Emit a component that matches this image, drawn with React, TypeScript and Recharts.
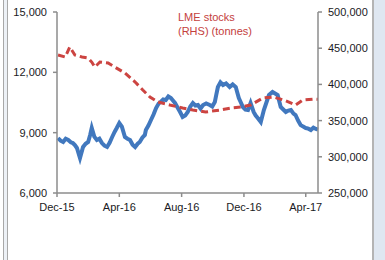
import React from "react";
import { LineChart, Line, XAxis, YAxis } from "recharts";

// x values are days since 1 Dec 2015
const tickDays = [0, 122, 244, 366, 487];
const tickLabels = ["Dec-15", "Apr-16", "Aug-16", "Dec-16", "Apr-17"];

// copper price (LHS)
const priceDays = [
  2, 7, 12, 17, 22, 27, 31, 35, 39, 45, 51, 56, 61, 65, 68, 73, 78, 83, 88, 93,
  98, 103, 108, 113, 117, 122, 127, 133, 138, 143, 148, 153, 158, 162, 167, 172,
  174, 179, 184, 189, 194, 199, 203, 208, 213, 218, 223, 227, 231, 236, 241, 246,
  251, 256, 261, 266, 271, 276, 281, 286, 292, 299, 304, 309, 312, 315, 320, 325,
  331, 338, 344, 350, 356, 360, 364, 369, 374, 379, 385, 389, 393, 399, 405, 410,
  415, 422, 427, 432, 438, 443, 448, 453, 458, 463, 467, 472, 477, 482, 487, 492,
  497, 502, 507, 511,
];
const priceValues = [
  8735, 8600, 8536, 8700, 8635, 8520, 8486, 8380, 8237, 7740, 8287, 8450, 8536, 8900,
  9232, 8800, 8635, 8700, 8486, 8350, 8287, 8500, 8784, 9050, 9232, 9480, 9300, 8784,
  8700, 8635, 8400, 8287, 8450, 8536, 8750, 8884, 9132, 9350, 9630, 9900, 10226, 10450,
  10524, 10650, 10624, 10800, 10723, 10600, 10475, 10250, 10027, 9779, 9850, 10027, 10300, 10475,
  10350, 10375, 10200, 10375, 10450, 10375, 10300, 10524, 10900, 11270, 11500, 11370, 11450, 11270,
  11400, 11270, 10723, 10500, 10276, 10150, 10127, 10475, 10027, 9850, 9729, 9530, 10127, 10500,
  10873, 11022, 10950, 10873, 10276, 10150, 10027, 10100, 10127, 9950, 9878, 9600, 9381, 9300,
  9232, 9200, 9132, 9250, 9182, 9150,
];

// LME stocks (RHS, tonnes)
const stockDays = [
  2, 16, 25, 35, 49, 61, 68, 74, 84, 100, 113, 133, 153, 168, 182, 198, 221, 246,
  266, 291, 319, 340, 360, 379, 403, 424, 444, 467, 481, 503, 511,
];
const stockValues = [
  440600, 437800, 451600, 440600, 437800, 436400, 430900, 424000, 430900, 429500, 424000,
  415700, 403300, 392200, 382600, 375700, 371500, 367400, 364600, 361900, 364600, 367400,
  368800, 371500, 381200, 382600, 378400, 371500, 378400, 379800, 379500,
];

const leftTicks = [6000, 9000, 12000, 15000];
const rightTicks = [250000, 300000, 350000, 400000, 450000, 500000];

const priceData = priceDays.map((day, i) => ({ day, price: priceValues[i] }));
const stockData = stockDays.map((day, i) => ({ day, stocks: stockValues[i] }));

const fmt = (v: number) => v.toLocaleString("en-US");
const tickStyle = { fontSize: 11, fill: "#1a1a24", fontFamily: "Liberation Sans, Arial, sans-serif" };
const axisColor = "#8c8c8c";

const App = () => {
  return (
    <div
      style={{
        position: "absolute",
        left: 0,
        top: 0,
        width: 385,
        height: 260,
        background: "#fff",
        overflow: "hidden",
      }}
    >
      <LineChart width={385} height={260} margin={{ top: 12, right: 0, left: 0, bottom: 37 }}>
        <XAxis
          dataKey="day"
          type="number"
          domain={[0, 511]}
          ticks={tickDays}
          tickFormatter={(v: number) => tickLabels[tickDays.indexOf(v)] ?? ""}
          height={30}
          tick={tickStyle}
          tickSize={4}
          tickMargin={6}
          stroke={axisColor}
          strokeWidth={1.5}
        />
        <YAxis
          yAxisId="left"
          domain={[6000, 15000]}
          ticks={leftTicks}
          tickFormatter={fmt}
          width={57}
          tick={tickStyle}
          tickSize={4}
          tickMargin={6}
          stroke={axisColor}
          strokeWidth={1.5}
        />
        <YAxis
          yAxisId="right"
          orientation="right"
          domain={[250000, 500000]}
          ticks={rightTicks}
          tickFormatter={fmt}
          width={67}
          tick={tickStyle}
          tickSize={4}
          tickMargin={6}
          stroke={axisColor}
          strokeWidth={1.5}
        />
        <Line
          yAxisId="left"
          data={priceData}
          dataKey="price"
          type="linear"
          stroke="#4178be"
          strokeWidth={4}
          dot={false}
          isAnimationActive={false}
        />
        <Line
          yAxisId="right"
          data={stockData}
          dataKey="stocks"
          type="linear"
          stroke="#cc4441"
          strokeWidth={3}
          strokeDasharray="7 4"
          dot={false}
          isAnimationActive={false}
        />
      </LineChart>
      <div
        style={{
          position: "absolute",
          left: 178,
          top: 10,
          fontFamily: "Liberation Sans, Arial, sans-serif",
          fontSize: 11,
          lineHeight: "14px",
          color: "#c4403d",
        }}
      >
        LME stocks
        <br />
        (RHS) (tonnes)
      </div>
      {/* window frame edges */}
      <div
        style={{
          position: "absolute",
          left: 3,
          top: 0,
          width: 3,
          height: 260,
          borderLeft: "1px solid #a8a8a8",
          borderRight: "1px solid #a8a8a8",
          background: "#edf1f6",
        }}
      />
      <div
        style={{
          position: "absolute",
          left: 372,
          top: 0,
          width: 13,
          height: 260,
          borderLeft: "2px solid #b4b4b4",
          background: "#dfe7f1",
        }}
      />
    </div>
  );
};

export default App;
